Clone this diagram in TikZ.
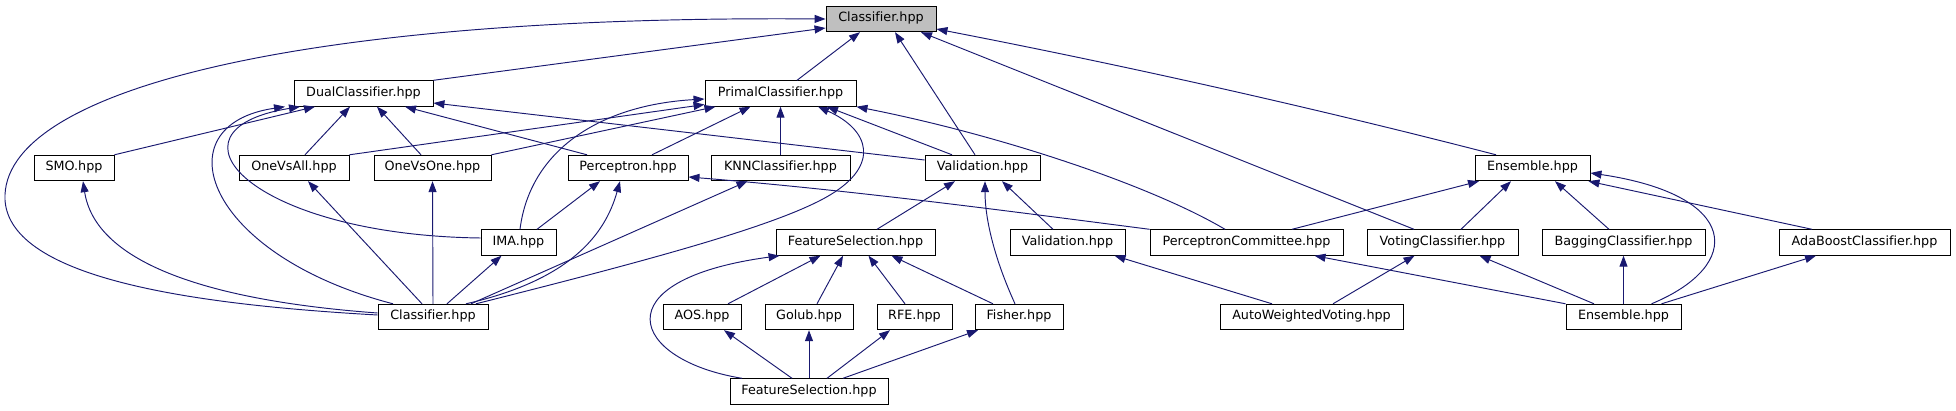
\documentclass[tikz,border=0pt]{standalone}
\usepackage{fontspec}
\setmainfont{DejaVu Sans}[Ligatures=NoCommon]
\usepackage{xcolor}
\usetikzlibrary{arrows.meta}

\definecolor{midnight}{RGB}{25,25,112}

\begin{document}
\begin{tikzpicture}[
        x=1pt, y=-1pt,
        every node/.style={font=\fontsize{12.75pt}{15pt}\selectfont},
        file/.style={draw=black, line width=0.9pt, rectangle, fill=white, inner sep=0pt, minimum height=25.5pt, text height=9.4pt, text depth=3.6pt},
        root/.style={file, fill=gray!50},
        dep/.style={draw=midnight, line width=0.95pt, -{Triangle[length=11pt,width=8pt]}},
    ]
        \useasboundingbox (0,0) rectangle (1956,411);

        % Row 1
        \node (cls) [root, minimum width=110pt] at (881,19) {Classifier.hpp};

        % Row 2
        \node (dual) [file, minimum width=139pt] at (363.5,93.5) {DualClassifier.hpp};
        \node (primal) [file, minimum width=151pt] at (780.5,93.5) {PrimalClassifier.hpp};

        % Row 3
        \node (smo) [file, minimum width=80pt] at (74,168) {SMO.hpp};
        \node (ovall) [file, minimum width=110pt] at (294,168) {OneVsAll.hpp};
        \node (ovone) [file, minimum width=117pt] at (432.5,168) {OneVsOne.hpp};
        \node (perc) [file, minimum width=120pt] at (628,168) {Perceptron.hpp};
        \node (knn) [file, minimum width=139pt] at (780.5,168) {KNNClassifier.hpp};
        \node (valid) [file, minimum width=115pt] at (982.5,168) {Validation.hpp};
        \node (ens) [file, minimum width=115pt] at (1532.5,168) {Ensemble.hpp};

        % Row 4
        \node (ima) [file, minimum width=75pt] at (518.5,242.5) {IMA.hpp};
        \node (fsel) [file, minimum width=159pt] at (855.5,242.5) {FeatureSelection.hpp};
        \node (validb) [file, minimum width=115pt] at (1067.5,242.5) {Validation.hpp};
        \node (pcom) [file, minimum width=193pt] at (1246.5,242.5) {PerceptronCommittee.hpp};
        \node (vote) [file, minimum width=151pt] at (1442.5,242.5) {VotingClassifier.hpp};
        \node (bag) [file, minimum width=163pt] at (1623.5,242.5) {BaggingClassifier.hpp};
        \node (ada) [file, minimum width=171pt] at (1864.5,242.5) {AdaBoostClassifier.hpp};

        % Row 5
        \node (clsb) [file, minimum width=110pt] at (433,317) {Classifier.hpp};
        \node (aos) [file, minimum width=78pt] at (702,317) {AOS.hpp};
        \node (golub) [file, minimum width=88pt] at (809,317) {Golub.hpp};
        \node (rfe) [file, minimum width=75pt] at (914.5,317) {RFE.hpp};
        \node (fisher) [file, minimum width=88pt] at (1019,317) {Fisher.hpp};
        \node (awv) [file, minimum width=183pt] at (1311.5,317) {AutoWeightedVoting.hpp};
        \node (ensb) [file, minimum width=115pt] at (1623.5,317) {Ensemble.hpp};

        % Row 6
        \node (fselb) [file, minimum width=158pt] at (809,391.5) {FeatureSelection.hpp};

        % --- Edges ---
        % Into Classifier.hpp (root)
        \draw [dep] (dual.north east) -- ([yshift=-9pt]cls.west);
        \draw [dep] ([yshift=2pt]clsb.west) .. controls (200,305) and (10,280) .. (5,200)
            .. controls (0,90) and (300,15) .. (cls.west);
        \draw [dep] ([xshift=16.5pt]primal.north) -- ([xshift=-21pt]cls.south);
        \draw [dep] ([xshift=-7.5pt]valid.north) -- ([xshift=14pt]cls.south);
        \draw [dep] ([xshift=-28.5pt]vote.north) -- ([xshift=40pt]cls.south);
        \draw [dep] ([xshift=-36.5pt]ens.north) .. controls (1400,130) and (1200,80) .. ([yshift=-10pt]cls.east);

        % Into DualClassifier.hpp
        \draw [dep] (smo.north east) -- ([xshift=-48.5pt]dual.south);
        \draw [dep] ([xshift=11pt]ovall.north) -- ([xshift=-13.5pt]dual.south);
        \draw [dep] ([xshift=-11.5pt]ovone.north) -- ([xshift=13.5pt]dual.south);
        \draw [dep] ([xshift=-41pt]perc.north) -- ([xshift=41.5pt]dual.south);
        \draw [dep] ([yshift=8pt]valid.west) -- ([yshift=-9.5pt]dual.east);
        \draw [dep] ([xshift=-40pt]clsb.north) .. controls (205,255) and (160,125) .. ([xshift=-78.5pt]dual.south);
        \draw [dep] ([yshift=4.5pt]ima.west) .. controls (250,235) and (155,130) .. ([xshift=-63.5pt]dual.south);

        % Into PrimalClassifier.hpp
        \draw [dep] ([xshift=1.5pt]ima.north) .. controls (530,150) and (600,105) .. ([yshift=-5.5pt]primal.west);
        \draw [dep] (ovall.north east) -- ([yshift=-11pt]primal.west);
        \draw [dep] (ovone.north east) -- ([xshift=-65pt]primal.south);
        \draw [dep] ([xshift=24pt]perc.north) -- ([xshift=-30pt]primal.south);
        \draw [dep] (knn.north) -- (primal.south);
        \draw [dep] ([xshift=43pt]clsb.north) .. controls (650,260) and (780,225) .. (830,195)
            .. controls (880,165) and (870,130) .. ([xshift=37.5pt]primal.south);
        \draw [dep] ([xshift=-30.5pt]valid.north) -- ([xshift=46.5pt]primal.south);
        \draw [dep] ([xshift=-21.5pt]pcom.north) .. controls (1150,185) and (1000,135) .. (primal.south east);

        % Into Perceptron.hpp and KNNClassifier.hpp
        \draw [dep] ([xshift=18.5pt]ima.north) -- ([xshift=-28pt]perc.south);
        \draw [dep] ([xshift=33pt]clsb.north) .. controls (570,280) and (605,235) .. ([xshift=-8pt]perc.south);
        \draw [dep] (pcom.north west) .. controls (1000,210) and (850,190) .. ([yshift=-9pt]perc.east);
        \draw [dep] ([xshift=38pt]clsb.north) -- ([xshift=-33pt]knn.south);

        % Into Validation.hpp (upper)
        \draw [dep] ([xshift=21.5pt]fsel.north) -- ([xshift=-27.5pt]valid.south);
        \draw [dep] ([xshift=-4pt]fisher.north) .. controls (995,260) and (985,220) .. ([xshift=2.5pt]valid.south);
        \draw [dep] ([xshift=-14.5pt]validb.north) -- ([xshift=19.5pt]valid.south);

        % Into Ensemble.hpp (upper)
        \draw [dep] ([xshift=45.5pt]pcom.north) -- ([xshift=-53.5pt]ens.south);
        \draw [dep] ([xshift=18.5pt]vote.north) -- ([xshift=-21.5pt]ens.south);
        \draw [dep] ([xshift=-14.5pt]bag.north) -- ([xshift=22.5pt]ens.south);
        \draw [dep] ([xshift=-52.5pt]ada.north) -- ([xshift=-2pt]ens.south east);
        \draw [dep] ([xshift=28pt]ensb.north) .. controls (1745,265) and (1740,195) .. ([yshift=-5pt]ens.east);

        % Into FeatureSelection.hpp (upper)
        \draw [dep] ([xshift=-67pt]fselb.north) .. controls (630,360) and (600,280) .. ([xshift=4pt]fsel.south west);
        \draw [dep] ([xshift=26pt]aos.north) -- ([xshift=-35pt]fsel.south);
        \draw [dep] ([xshift=8pt]golub.north) -- ([xshift=-12.5pt]fsel.south);
        \draw [dep] ([xshift=-9.5pt]rfe.north) -- ([xshift=13pt]fsel.south);
        \draw [dep] ([xshift=-26pt]fisher.north) -- ([xshift=36pt]fsel.south);

        % From FeatureSelection.hpp (lower)
        \draw [dep] ([xshift=-17pt]fselb.north) -- ([xshift=22pt]aos.south);
        \draw [dep] (fselb.north) -- (golub.south);
        \draw [dep] ([xshift=18pt]fselb.north) -- ([xshift=-24.5pt]rfe.south);
        \draw [dep] ([xshift=34pt]fselb.north) -- ([xshift=-41pt]fisher.south);

        % From AutoWeightedVoting.hpp and Ensemble.hpp (lower)
        \draw [dep] ([xshift=-39.5pt]awv.north) -- ([xshift=47pt]validb.south);
        \draw [dep] ([xshift=21.5pt]awv.north) -- ([xshift=-28pt]vote.south);
        \draw [dep] (ensb.north west) -- ([xshift=68pt]pcom.south);
        \draw [dep] ([xshift=-29.5pt]ensb.north) -- ([xshift=37pt]vote.south);
        \draw [dep] (ensb.north) -- (bag.south);
        \draw [dep] ([xshift=38pt]ensb.north) -- ([xshift=-48.5pt]ada.south);

        % From Classifier.hpp (lower)
        \draw [dep] ([yshift=4pt]clsb.west) .. controls (200,300) and (95,260) .. ([xshift=9pt]smo.south);
        \draw [dep] ([xshift=-11pt]clsb.north) -- ([xshift=14pt]ovall.south);
        \draw [dep] (clsb.north) -- (ovone.south);
        \draw [dep] ([xshift=14pt]clsb.north) -- ([xshift=-17pt]ima.south);

    \end{tikzpicture}
\end{document}
